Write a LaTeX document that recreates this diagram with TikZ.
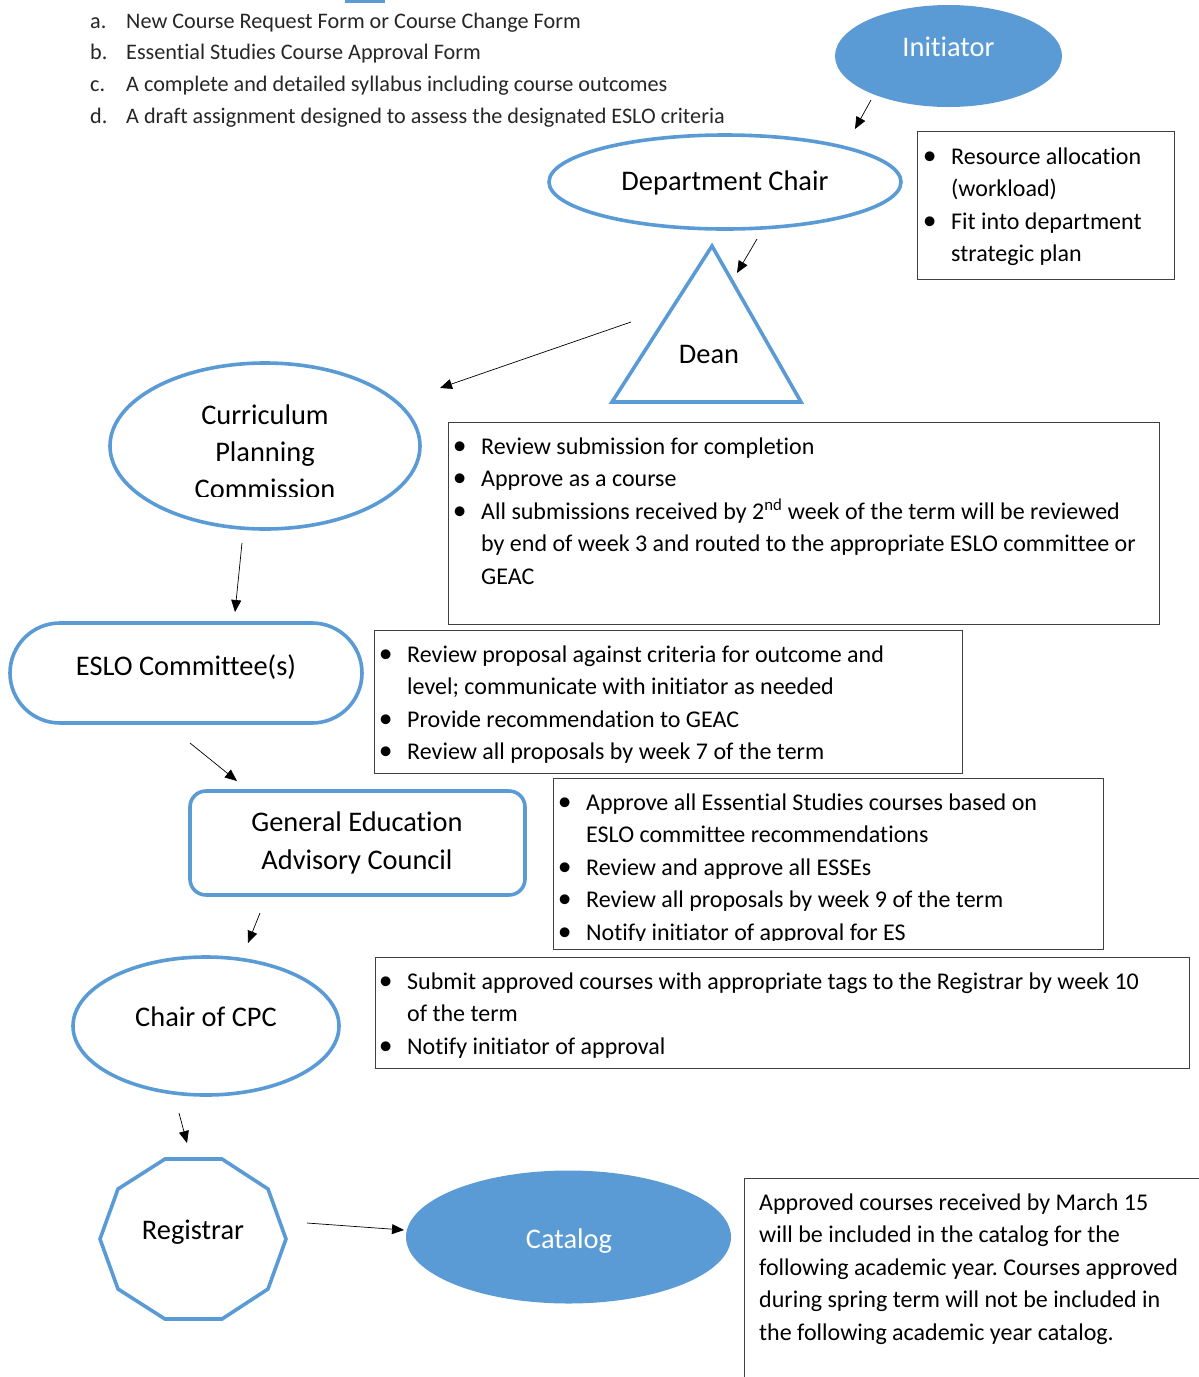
\documentclass[tikz,border=0pt]{standalone}
\usepackage{fontspec}
\setmainfont{Carlito}[Ligatures=NoCommon]
\usetikzlibrary{arrows.meta,shapes.geometric}
\definecolor{accent}{HTML}{5B9BD5}
\definecolor{frame}{HTML}{404040}
\definecolor{listgray}{HTML}{262626}
% bullet hung in the left margin of a line
\newcommand{\bul}{\llap{\makebox[0pt]{\scalebox{1.15}{\textbullet}}\hspace{21.5pt}}}
\newcommand{\firstline}{\rule{0pt}{20pt}}
\frenchspacing
\begin{document}
\begin{tikzpicture}[x=1pt,y=-1pt,
  flow/.style={-{Triangle[length=12pt,width=10pt]},line width=0.7pt,black},
  outline/.style={draw=accent,line width=3.6pt},
  filled/.style={fill=accent,draw=none},
  notebox/.style={draw=frame,line width=1pt},
  body/.style={font=\fontsize{24}{32.5}\selectfont,anchor=north west,inner sep=0pt,align=left},
  listtext/.style={font=\fontsize{22.2}{31.7}\selectfont,anchor=north west,inner sep=0pt,align=left,text=listgray},
  shapetext/.style={font=\fontsize{28.4}{37}\selectfont,anchor=base,inner sep=0pt,align=center},
  shapebox/.style={inner sep=0pt,outer sep=0pt}]
\useasboundingbox (0,0) rectangle (1199,1377);

% header: required documents
\fill[accent] (345,0) rectangle (385,2.5);
\node[listtext] (doclabels) at (90,8) {\firstline a.\\ b.\\ c.\\ d.};
\node[listtext] (doclist) at (126,8) {\firstline New Course Request Form or Course Change Form\\
  Essential Studies Course Approval Form\\
  A complete and detailed syllabus including course outcomes\\
  A draft assignment designed to assess the designated ESLO criteria};

% Initiator
\node[shapebox,ellipse,filled,minimum width=227,minimum height=102] (init) at (948.5,56) {};
\node[shapetext,text=white] (initt) at (948.5,56) {Initiator};

% Department Chair
\node[shapebox,ellipse,outline,minimum width=352,minimum height=94] (chair) at (725,182) {};
\node[shapetext] (chairt) at (725,190) {Department Chair};
\draw[notebox] (917.5,131.5) rectangle (1174,279) coordinate (box1);
\node[body] (box1t) at (951,144) {\firstline\bul Resource allocation\\ (workload)\\ \bul Fit into department\\ strategic plan};

% Dean
\coordinate (deanc) at (707,355);
\draw[outline,line join=miter] (712,246) -- (801,402) -- (612,402) -- cycle;
\node[shapetext] (deant) at (709,363) {Dean};

% Curriculum Planning Commission (last line cut off by its text frame)
\node[shapebox,ellipse,outline,minimum width=310,minimum height=166] (cpc) at (265,446) {};
\begin{scope}
  \clip (100,380) rectangle (430,496.5);
  \node[shapetext,font=\fontsize{28.4}{36.8}\selectfont] (cpct) at (265,498.5) {Curriculum\\ Planning\\ Commission};
\end{scope}
\draw[notebox] (448,422) rectangle (1159,624);
\node[body] (box2t) at (481,434) {\firstline\bul Review submission for completion\\
  \bul Approve as a course\\
  \bul All submissions received by 2\textsuperscript{nd} week of the term will be reviewed\\
  by end of week 3 and routed to the appropriate ESLO committee or\\
  GEAC};

% ESLO Committee(s)
\node[shapebox,rectangle,outline,minimum width=352,minimum height=100,rounded corners=50] (eslo) at (186,673) {};
\node[shapetext] (eslot) at (186,675) {ESLO Committee(s)};
\draw[notebox] (374,630) rectangle (962,773);
\node[body] (box3t) at (407,642) {\firstline\bul Review proposal against criteria for outcome and\\
  level; communicate with initiator as needed\\
  \bul Provide recommendation to GEAC\\
  \bul Review all proposals by week 7 of the term};

% General Education Advisory Council
\node[shapebox,rectangle,outline,minimum width=335,minimum height=104,rounded corners=16] (geac) at (357.5,843) {};
\node[shapetext,font=\fontsize{28.4}{37.5}\selectfont] (geact) at (357,869) {General Education\\ Advisory Council};
\draw[notebox] (553,778) rectangle (1103,949);
\begin{scope}
  \clip (555,780) rectangle (1100,940.5);
  \node[body] (box4t) at (586,790) {\firstline\bul Approve all Essential Studies courses based on\\
    ESLO committee recommendations\\
    \bul Review and approve all ESSEs\\
    \bul Review all proposals by week 9 of the term\\
    \bul Notify initiator of approval for ES};
\end{scope}

% Chair of CPC
\node[shapebox,ellipse,outline,minimum width=266,minimum height=138] (ccpc) at (206,1026) {};
\node[shapetext] (ccpct) at (206,1026) {Chair of CPC};
\draw[notebox] (375,957) rectangle (1189,1068);
\node[body] (box5t) at (407,969) {\firstline\bul Submit approved courses with appropriate tags to the Registrar by week 10\\
  of the term\\
  \bul Notify initiator of approval};

% Registrar
\draw[outline,line join=miter] (165,1159) -- (222,1159) -- (268,1189) -- (286,1239) -- (268,1289)
  -- (222,1319) -- (165,1319) -- (118,1289) -- (100,1239) -- (118,1189) -- cycle;
\node[shapetext] (regt) at (193,1239) {Registrar};

% Catalog
\node[shapebox,ellipse,filled,minimum width=325,minimum height=133] (cat) at (568.5,1237) {};
\node[shapetext,text=white] (catt) at (569,1248) {Catalog};
\draw[notebox] (1205,1178) -- (744,1178) -- (744,1385);
\node[body] (box6t) at (759,1190) {\firstline Approved courses received by March 15\\
  will be included in the catalog for the\\
  following academic year. Courses approved\\
  during spring term will not be included in\\
  the following academic year catalog.};

% connectors
\coordinate (a1s) at (871,100);  \coordinate (a1e) at (855,129);
\coordinate (a2s) at (757,239);  \coordinate (a2e) at (737,273);
\coordinate (a3s) at (631,322);  \coordinate (a3e) at (440,388);
\coordinate (a4s) at (242,543);  \coordinate (a4e) at (235,612);
\coordinate (a5s) at (190,743);  \coordinate (a5e) at (237,781);
\coordinate (a6s) at (260,913);  \coordinate (a6e) at (248,943);
\coordinate (a7s) at (179,1113); \coordinate (a7e) at (187,1143);
\coordinate (a8s) at (307,1223); \coordinate (a8e) at (404,1230);
\foreach \k in {1,...,8} \draw[flow] (a\k s) -- (a\k e);
\end{tikzpicture}
\end{document}
